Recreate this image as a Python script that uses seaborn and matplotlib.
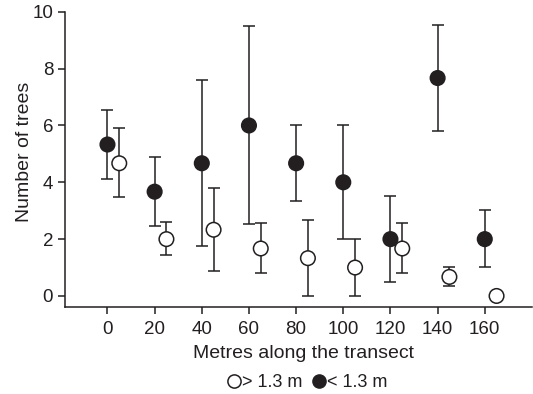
import numpy as np
import pandas as pd
import seaborn as sns
import matplotlib.pyplot as plt
from matplotlib.lines import Line2D

# positions along the transect (m); open symbols offset by 5 m
small_x = [0, 20, 40, 60, 80, 100, 120, 140, 160]
small_mean = [5.33, 3.67, 4.67, 6.0, 4.67, 4.0, 2.0, 7.67, 2.0]
small_low = [4.13, 2.47, 1.77, 2.55, 3.34, 2.0, 0.48, 5.82, 1.01]
small_high = [6.55, 4.88, 7.59, 9.49, 6.0, 6.0, 3.53, 9.55, 3.01]

tall_x = [5, 25, 45, 65, 85, 105, 125, 145, 165]
tall_mean = [4.67, 2.0, 2.33, 1.67, 1.33, 1.0, 1.67, 0.67, 0.0]
tall_low = [3.49, 1.43, 0.89, 0.80, 0.0, 0.0, 0.80, 0.34, 0.0]
tall_high = [5.9, 2.59, 3.80, 2.56, 2.69, 2.0, 2.56, 1.01, 0.0]

df = pd.concat([
    pd.DataFrame({'x': small_x, 'mean': small_mean, 'low': small_low,
                  'high': small_high, 'group': '< 1.3 m'}),
    pd.DataFrame({'x': tall_x, 'mean': tall_mean, 'low': tall_low,
                  'high': tall_high, 'group': '> 1.3 m'}),
], ignore_index=True)

sns.set_theme(style="ticks")
plt.rcParams['font.family'] = ['Liberation Sans', 'DejaVu Sans']

ink = '#231f20'
fig = plt.figure(figsize=(5.33, 3.94), dpi=100)
ax = fig.add_axes([0.122, 0.22, 0.876, 0.75])

for grp in ['< 1.3 m', '> 1.3 m']:
    d = df[df['group'] == grp]
    yerr = np.vstack([d['mean'] - d['low'], d['high'] - d['mean']])
    has_err = (yerr.sum(axis=0) > 0)
    ax.errorbar(d['x'][has_err], d['mean'][has_err], yerr=yerr[:, has_err],
                fmt='none', ecolor=ink, elinewidth=1.1, capsize=4,
                capthick=1.1, zorder=2)

sns.scatterplot(data=df, x='x', y='mean', hue='group', style='group',
                palette={'< 1.3 m': ink, '> 1.3 m': 'white'},
                markers={'< 1.3 m': 'o', '> 1.3 m': 'o'},
                s=110, edgecolor=ink, linewidth=1.1, legend=False,
                zorder=3, ax=ax)

ax.set_xlim(-18, 180)
ax.set_ylim(-0.4, 10)
ax.set_xticks(range(0, 161, 20))
ax.set_yticks(range(0, 11, 2))
ax.spines['left'].set_bounds(-0.4, 10)
for s in ['top', 'right']:
    ax.spines[s].set_visible(False)
for s in ['left', 'bottom']:
    ax.spines[s].set_linewidth(1.1)
    ax.spines[s].set_color(ink)
ax.tick_params(direction='out', length=5, width=1.1, colors=ink,
               labelsize=13.5, labelcolor=ink)
ax.tick_params(axis='x', pad=5)
ax.set_xlabel('Metres along the transect', fontsize=14, color=ink,
              va='center', ha='center')
ax.xaxis.set_label_coords(0.51, -0.156)
ax.set_ylabel('Number of trees', fontsize=14, color=ink,
              va='center', ha='center')
ax.yaxis.set_label_coords(-0.086, 0.525)

handles = [
    Line2D([], [], marker='o', linestyle='none', markersize=9.5,
           markerfacecolor='white', markeredgecolor=ink, markeredgewidth=1.1),
    Line2D([], [], marker='o', linestyle='none', markersize=9.5,
           markerfacecolor=ink, markeredgecolor=ink),
]
fig.legend(handles, ['> 1.3 m', '< 1.3 m'], loc='center',
           bbox_to_anchor=(0.576, 0.028), ncol=2, frameon=False,
           handlelength=0.8, handletextpad=0.05, columnspacing=0.5,
           fontsize=13, labelcolor=ink)

fig.savefig('out.png', dpi=100)
